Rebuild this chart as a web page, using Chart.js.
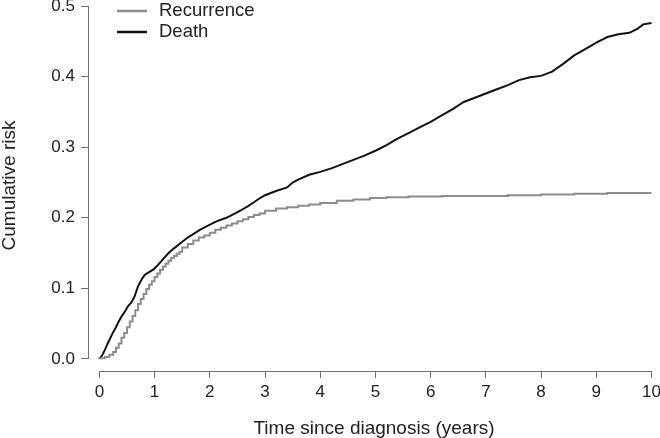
<!DOCTYPE html>
<html>
<head>
<meta charset="utf-8">
<script src="https://cdn.jsdelivr.net/npm/chart.js@4/dist/chart.umd.min.js"></script>
<style>
  html, body { margin: 0; padding: 0; background: #fff; }
  #wrap { width: 660px; height: 438px; }
</style>
</head>
<body>
<div id="wrap"><canvas id="chart" width="660" height="438"></canvas></div>
<script>
// values
const seriesNames = ['Recurrence', 'Death'];

const recurrenceTimes = [0, 0.1, 0.18, 0.25, 0.3, 0.35, 0.4, 0.45, 0.5, 0.55, 0.6, 0.65, 0.7, 0.75, 0.8, 0.85, 0.9, 0.95,
  1.0, 1.05, 1.1, 1.15, 1.2, 1.25, 1.3, 1.35, 1.4, 1.45, 1.5, 1.6, 1.7, 1.8, 1.9, 2.0, 2.1, 2.2, 2.3, 2.4, 2.5, 2.6, 2.7, 2.8, 2.9,
  3.0, 3.2, 3.4, 3.6, 3.8, 4.0, 4.3, 4.6, 4.9, 5.2, 5.6, 6.2, 6.8, 7.4, 8.0, 8.6, 9.2, 10];
const recurrenceRisk = [0, 0.001, 0.003, 0.006, 0.01, 0.016, 0.022, 0.03, 0.037, 0.045, 0.053, 0.061, 0.069, 0.078, 0.085, 0.092, 0.099, 0.105,
  0.11, 0.116, 0.121, 0.126, 0.131, 0.135, 0.139, 0.143, 0.146, 0.149, 0.152, 0.158, 0.163, 0.168, 0.172, 0.175, 0.179, 0.183, 0.186, 0.189, 0.192, 0.195, 0.198, 0.201, 0.204,
  0.206, 0.21, 0.213, 0.215, 0.217, 0.219, 0.221, 0.224, 0.226, 0.228, 0.229, 0.23, 0.231, 0.231, 0.232, 0.233, 0.234, 0.235];

const deathTimes = [0, 0.05, 0.1, 0.15, 0.2, 0.25, 0.3, 0.35, 0.4, 0.46, 0.52, 0.58, 0.64, 0.7, 0.76, 0.82, 0.9, 0.98,
  1.06, 1.15, 1.24, 1.34, 1.45, 1.6, 1.72, 1.82, 1.94, 2.02, 2.12, 2.3, 2.45, 2.55, 2.7, 2.8, 2.91,
  3.0, 3.2, 3.4, 3.5, 3.6, 3.8, 4.0, 4.2, 4.4, 4.6, 4.8, 5.0, 5.2, 5.4, 5.6, 5.8, 6.0, 6.2, 6.4, 6.6, 6.8,
  7.0, 7.2, 7.4, 7.6, 7.8, 8.0, 8.2, 8.4, 8.6, 8.8, 9.0, 9.2, 9.4, 9.6, 9.75, 9.85, 10];
const deathRisk = [0, 0.005, 0.013, 0.022, 0.03, 0.038, 0.045, 0.053, 0.06, 0.067, 0.075, 0.08, 0.089, 0.103, 0.112, 0.119, 0.123, 0.127,
  0.133, 0.141, 0.149, 0.156, 0.163, 0.172, 0.178, 0.183, 0.188, 0.191, 0.195, 0.2, 0.206, 0.21, 0.217, 0.222, 0.228,
  0.232, 0.238, 0.243, 0.25, 0.254, 0.261, 0.265, 0.27, 0.276, 0.282, 0.288, 0.295, 0.303, 0.312, 0.32, 0.328, 0.336, 0.345, 0.354, 0.364, 0.37,
  0.376, 0.382, 0.388, 0.395, 0.399, 0.401, 0.407, 0.418, 0.43, 0.439, 0.448, 0.456, 0.46, 0.462, 0.468, 0.474, 0.476];

const xTicks = [0, 1, 2, 3, 4, 5, 6, 7, 8, 9, 10];
const yTicks = [0, 0.1, 0.2, 0.3, 0.4, 0.5];

const toPoints = (ts, vs) => ts.map((t, i) => ({ x: t, y: vs[i] }));

const axisColor = '#6e6e6e';
const textColor = '#222';
const fontFamily = '"Liberation Sans", Arial, Helvetica, sans-serif';

// R-style axes: line runs only from the first to the last tick
const rAxes = {
  id: 'rAxes',
  afterDraw(chart) {
    const { ctx, chartArea, scales } = chart;
    const x = scales.x, y = scales.y;
    ctx.save();
    ctx.strokeStyle = axisColor;
    ctx.lineWidth = 1;
    ctx.beginPath();
    ctx.moveTo(chartArea.left + 0.5, y.getPixelForValue(yTicks[0]));
    ctx.lineTo(chartArea.left + 0.5, y.getPixelForValue(yTicks[yTicks.length - 1]));
    ctx.moveTo(x.getPixelForValue(xTicks[0]), chartArea.bottom + 0.5);
    ctx.lineTo(x.getPixelForValue(xTicks[xTicks.length - 1]), chartArea.bottom + 0.5);
    ctx.stroke();

    // legend, top left
    const colors = ['#8c8c8c', '#111'];
    ctx.font = '18.5px ' + fontFamily;
    ctx.textBaseline = 'middle';
    ctx.fillStyle = textColor;
    seriesNames.forEach((name, i) => {
      const ly = 11 + i * 21;
      ctx.strokeStyle = colors[i];
      ctx.lineWidth = 2.5;
      ctx.beginPath();
      ctx.moveTo(117, ly);
      ctx.lineTo(147, ly);
      ctx.stroke();
      ctx.fillText(name, 159, ly);
    });
    ctx.restore();
  }
};

new Chart(document.getElementById('chart'), {
  type: 'line',
  data: {
    datasets: [
      {
        label: seriesNames[0],
        data: toPoints(recurrenceTimes, recurrenceRisk),
        borderColor: '#8c8c8c',
        borderWidth: 2,
        pointRadius: 0,
        stepped: 'after'
      },
      {
        label: seriesNames[1],
        data: toPoints(deathTimes, deathRisk),
        borderColor: '#111',
        borderWidth: 2,
        pointRadius: 0,
        tension: 0
      }
    ]
  },
  options: {
    responsive: false,
    animation: false,
    layout: { padding: 0 },
    plugins: {
      legend: { display: false },
      tooltip: { enabled: false }
    },
    scales: {
      x: {
        type: 'linear',
        min: -0.206,
        max: 10.154,
        afterBuildTicks: s => { s.ticks = xTicks.map(v => ({ value: v })); },
        afterFit: s => { s.height = 67; s.paddingLeft = 0; s.paddingRight = 0; },
        border: { display: false },
        grid: { drawOnChartArea: false, drawTicks: true, tickLength: 7, color: axisColor },
        ticks: {
          padding: 4,
          color: textColor,
          font: { family: fontFamily, size: 17 },
          callback: v => String(v)
        },
        title: {
          display: true,
          text: 'Time since diagnosis (years)',
          color: textColor,
          font: { family: fontFamily, size: 19, lineHeight: 1 },
          padding: { top: 0, bottom: 0 }
        }
      },
      y: {
        min: -0.017,
        max: 0.5085,
        afterBuildTicks: s => { s.ticks = yTicks.map(v => ({ value: v })); },
        afterFit: s => { s.width = 88; s.paddingTop = 0; s.paddingBottom = 0; },
        border: { display: false },
        grid: { drawOnChartArea: false, drawTicks: true, tickLength: 7, color: axisColor },
        ticks: {
          padding: 6,
          color: textColor,
          font: { family: fontFamily, size: 17 },
          callback: v => v.toFixed(1)
        },
        title: {
          display: true,
          text: 'Cumulative risk',
          color: textColor,
          font: { family: fontFamily, size: 19, lineHeight: 1 },
          padding: { top: 0, bottom: 0 }
        }
      }
    }
  },
  plugins: [rAxes]
});
</script>
</body>
</html>
